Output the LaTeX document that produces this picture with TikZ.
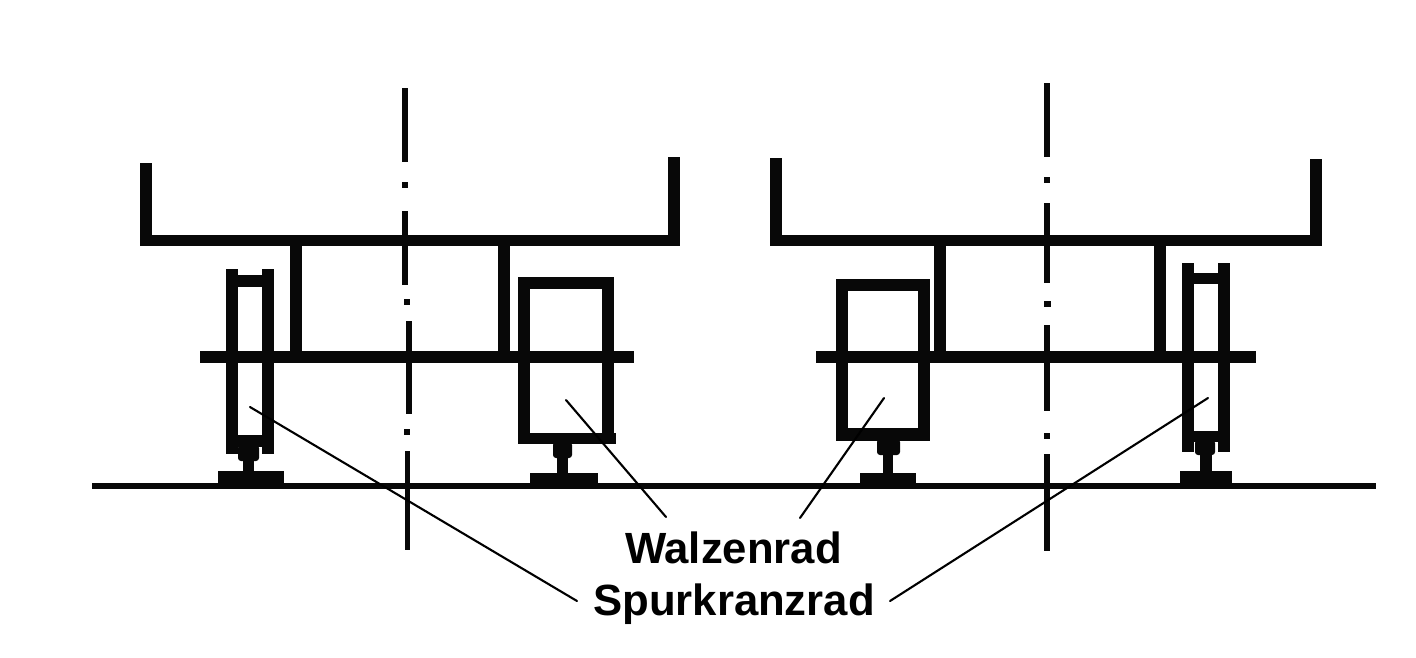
\documentclass[tikz,border=0pt]{standalone}
\usepackage{fontspec}
\setmainfont{Liberation Sans}
\tikzset{
  ink/.style={fill=black!97!white},
  hub/.style={fill=black!97!white,rounded corners=3pt},
  leader/.style={draw=black,line width=2.1pt,line cap=round},
  lab/.style={inner sep=0pt,anchor=base,font=\bfseries\fontsize{43.7pt}{44pt}\selectfont,text=black}
}
\begin{document}
\begin{tikzpicture}[x=1pt,y=-1pt]
\useasboundingbox[fill=white] (0,0) rectangle (1416,657);
% ground
\fill[ink] (92,483) rectangle (1376,489);
% left car body
\fill[ink] (140,163) rectangle (152,246);
\fill[ink] (668,157) rectangle (680,246);
\fill[ink] (140,235) rectangle (680,246);
\fill[ink] (290,246) rectangle (302,351);
\fill[ink] (498,246) rectangle (510,351);
\fill[ink] (200,351) rectangle (634,363);
% right car body
\fill[ink] (770,158) rectangle (782,246);
\fill[ink] (1310,159) rectangle (1322,246);
\fill[ink] (770,235) rectangle (1322,246);
\fill[ink] (934,246) rectangle (946,351);
\fill[ink] (1154,246) rectangle (1166,351);
\fill[ink] (816,351) rectangle (1256,363);
% wheel 1 (flanged, left)
\fill[ink] (226,269) rectangle (238,454);
\fill[ink] (262,269) rectangle (274,454);
\fill[ink] (238,275) rectangle (262,287);
\fill[ink] (238,435) rectangle (262,447);
\fill[hub] (238,445) rectangle (259,461);
\fill[ink] (243,455) rectangle (254,472);
\fill[ink] (218,471) rectangle (284,489);
% wheel 2 (roller, left)
\fill[ink] (518,277) rectangle (530,444);
\fill[ink] (602,277) rectangle (614,444);
\fill[ink] (518,277) rectangle (614,289);
\fill[ink] (518,433) rectangle (616,444);
\fill[hub] (553,442) rectangle (572,458);
\fill[ink] (557,450) rectangle (568,474);
\fill[ink] (530,473) rectangle (598,489);
% wheel 3 (roller, right)
\fill[ink] (836,279) rectangle (848,441);
\fill[ink] (918,279) rectangle (930,441);
\fill[ink] (836,279) rectangle (930,291);
\fill[ink] (836,428) rectangle (930,441);
\fill[hub] (877,439) rectangle (900,455);
\fill[ink] (883,450) rectangle (893,474);
\fill[ink] (860,473) rectangle (916,489);
% wheel 4 (flanged, right)
\fill[ink] (1182,263) rectangle (1194,452);
\fill[ink] (1218,263) rectangle (1230,452);
\fill[ink] (1194,273) rectangle (1218,284);
\fill[ink] (1194,431) rectangle (1218,442);
\fill[hub] (1195,440) rectangle (1215,455);
\fill[ink] (1200,450) rectangle (1212,472);
\fill[ink] (1180,471) rectangle (1232,489);
% left centre line
\fill[ink] (402,88) rectangle (408,162);
\fill[ink] (402,182) rectangle (408,188);
\fill[ink] (402,211) rectangle (408,285);
\fill[ink] (404,299) rectangle (410,305);
\fill[ink] (406,321) rectangle (412,414);
\fill[ink] (404,429) rectangle (410,435);
\fill[ink] (405,451) rectangle (410,550);
% right centre line
\fill[ink] (1044,83) rectangle (1050,157);
\fill[ink] (1044,177) rectangle (1050,183);
\fill[ink] (1044,203) rectangle (1050,283);
\fill[ink] (1044,301) rectangle (1051,307);
\fill[ink] (1044,325) rectangle (1050,411);
\fill[ink] (1044,433) rectangle (1050,439);
\fill[ink] (1044,454) rectangle (1050,551);
% labels
\node[lab] (walzen) at (733.5,563) {Walzenrad};
\node[lab] (spur) at (734,615) {Spurkranzrad};
% leader ends
\coordinate (w1) at (250,407);
\coordinate (w2) at (566,400);
\coordinate (w3) at (884,398);
\coordinate (w4) at (1208,398);
\coordinate (s1) at (577,601);
\coordinate (l2) at (666,517);
\coordinate (l3) at (800,518);
\coordinate (s4) at (890,601);
\draw[leader] (w1) -- (s1);
\draw[leader] (w2) -- (l2);
\draw[leader] (w3) -- (l3);
\draw[leader] (w4) -- (s4);
\end{tikzpicture}
\end{document}
